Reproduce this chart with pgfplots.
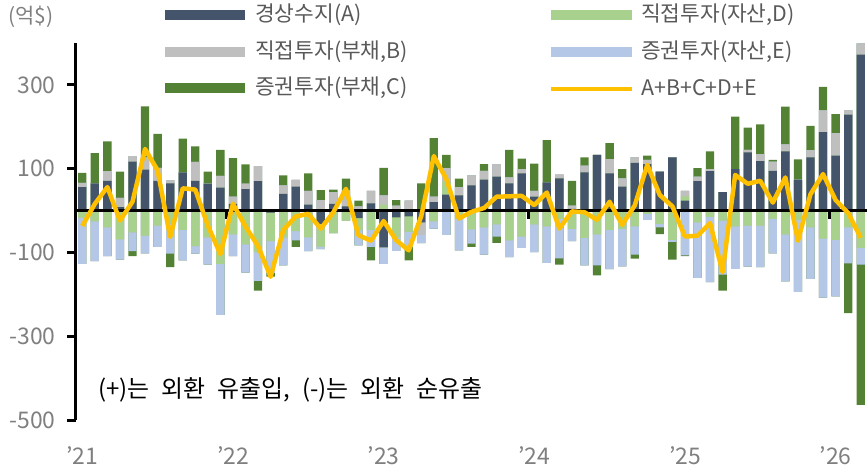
\documentclass[border=0pt]{standalone}
\usepackage{fontspec}
\setmainfont{Noto Sans CJK KR}
\usepackage{pgfplots}
\pgfplotsset{compat=1.18}
\usepackage{pgfplotstable}

\definecolor{colA}{HTML}{44546A}
\definecolor{colB}{HTML}{BFBFBF}
\definecolor{colC}{HTML}{548235}
\definecolor{colD}{HTML}{A9D18E}
\definecolor{colE}{HTML}{B4C7E7}
\definecolor{colL}{HTML}{FFC000}
\definecolor{txtgray}{HTML}{7F7F7F}
\definecolor{legtxt}{HTML}{595959}

% monthly flows, 억$ ; n=0 is Jan 2021
% A current account, B FDI liab., C portfolio liab., D FDI assets, E portfolio assets
\pgfplotstableread{
n A B C D E
0 56 10 24 -17 -110
1 65 0 72 -26 -95
2 71 23 71 -40 -69
3 8 22 63 -69 -48
4 117 13 -12 -52 -45
5 98 29 122 -60 -42
6 71 31 81 -36 -51
7 65 7 -32 -32 -71
8 91 0 81 -46 -73
9 71 45 37 -85 -18
10 64 0 29 -64 -65
11 55 28 62 -127 -122
12 16 17 92 -57 -52
13 51 13 46 -81 -67
14 70 36 -23 -99 -69
15 -5 0 -9 -68 -76
16 40 20 24 -64 -67
17 57 16 -16 -49 -22
18 14 33 42 -64 -33
19 -32 25 24 -54 -6
20 16 28 6 -54 0
21 10 38 28 -24 0
22 -18 10 14 -29 -36
23 17 30 -32 -46 -41
24 -88 22 66 14 -39
25 -16 12 13 -48 -32
26 -14 24 -32 -37 -36
27 -28 -30 65 0 -20
28 20 13 140 -26 -17
29 38 32 32 31 -58
30 36 20 20 -20 -75
31 60 24 -8 -45 -34
32 74 21 16 -40 -65
33 81 29 -15 -33 -29
34 65 14 66 -71 -40
35 89 10 25 -62 -27
36 33 14 65 -33 -66
37 67 0 101 -38 -87
38 77 9 -15 -20 -94
39 4 8 59 -44 -29
40 91 16 20 -65 -66
41 133 0 -24 -57 -74
42 89 34 38 -46 -94
43 57 20 22 -44 -89
44 114 13 -10 -38 -67
45 111 10 10 -8 -14
46 93 0 -16 -32 -8
47 127 0 -42 -70 -5
48 24 13 -2 10 -107
49 70 11 20 -28 -133
50 94 5 42 -15 -156
51 44 0 -38 -24 -129
52 99 0 125 -38 -101
53 139 6 53 -36 -98
54 118 17 71 -36 -99
55 95 22 4 -20 -82
56 141 17 90 -57 -112
57 74 0 48 -22 -172
58 127 17 58 -40 -123
59 187 52 56 -67 -141
60 131 54 45 -70 -135
61 229 10 -119 -40 -86
62 372 27 -335 -89 -40
}\flows

% stacking order A, D, B, E, C; positives and negatives stacked apart,
% each bar drawn from zero to its running total, deepest first
\pgfplotsset{
  seg/.style={ybar, bar width=8.3bp, bar shift=0pt, fill=#1, draw=none, forget plot},
}
\newcommand{\pA}{max(\thisrow{A},0)}
\newcommand{\pD}{max(\thisrow{D},0)}
\newcommand{\pB}{max(\thisrow{B},0)}
\newcommand{\pE}{max(\thisrow{E},0)}
\newcommand{\pC}{max(\thisrow{C},0)}
\newcommand{\nA}{min(\thisrow{A},0)}
\newcommand{\nD}{min(\thisrow{D},0)}
\newcommand{\nB}{min(\thisrow{B},0)}
\newcommand{\nE}{min(\thisrow{E},0)}
\newcommand{\nC}{min(\thisrow{C},0)}

\begin{document}
\begin{tikzpicture}
\begin{axis}[
  at={(0,0)}, anchor=south west,
  scale only axis, width=791bp, height=377bp,
  xmin=-0.5, xmax=62.5, ymin=-500, ymax=400,
  axis y line*=left, axis x line*=bottom,
  x axis line style={draw=none},
  y axis line style={line width=3bp, black},
  ytick={-500,-300,-100,100,300},
  ytick style={line width=3bp, black},
  tick align=outside, major tick length=9bp,
  xtick={0,12,24,36,48,60},
  xticklabels={'21,'22,'23,'24,'25,'26},
  xtick style={draw=none},
  tick label style={font=\fontsize{23}{23}\selectfont, text=txtgray},
  yticklabel style={xshift=-8bp},
  xticklabel style={anchor=center, yshift=-27bp},
  /pgf/number format/assume math mode=true,
  clip=false,
]
% positive side
\addplot[seg=colC] table[x=n, y expr={\pA+\pD+\pB+\pE+\pC}] {\flows};
\addplot[seg=colE] table[x=n, y expr={\pA+\pD+\pB+\pE}] {\flows};
\addplot[seg=colB] table[x=n, y expr={\pA+\pD+\pB}] {\flows};
\addplot[seg=colD] table[x=n, y expr={\pA+\pD}] {\flows};
\addplot[seg=colA] table[x=n, y expr={\pA}] {\flows};
% negative side
\addplot[seg=colC] table[x=n, y expr={\nA+\nD+\nB+\nE+\nC}] {\flows};
\addplot[seg=colE] table[x=n, y expr={\nA+\nD+\nB+\nE}] {\flows};
\addplot[seg=colB] table[x=n, y expr={\nA+\nD+\nB}] {\flows};
\addplot[seg=colD] table[x=n, y expr={\nA+\nD}] {\flows};
\addplot[seg=colA] table[x=n, y expr={\nA}] {\flows};

% zero line and year marks
\draw[black, line width=3.3bp] (axis cs:-0.5,0) -- (axis cs:62.5,0);
\draw[black, line width=3bp] (axis cs:11.5,0) -- (axis cs:11.5,-20);
\draw[black, line width=3bp] (axis cs:23.5,0) -- (axis cs:23.5,-20);
\draw[black, line width=3bp] (axis cs:35.5,0) -- (axis cs:35.5,-20);
\draw[black, line width=3bp] (axis cs:47.5,0) -- (axis cs:47.5,-20);
\draw[black, line width=3bp] (axis cs:59.5,0) -- (axis cs:59.5,-20);

% sum line
\addplot[colL, line width=4.5bp, line join=round, mark=none]
  table[x=n, y expr={\thisrow{A}+\thisrow{B}+\thisrow{C}+\thisrow{D}+\thisrow{E}}] {\flows};
\end{axis}

% legend
\begin{scope}[every node/.style={anchor=west, inner sep=0pt, text=legtxt, font=\fontsize{21.5}{21.5}\selectfont}]
\fill[colA] (89bp,400bp) rectangle (169bp,410bp);
\node at (179bp,405bp) {경상수지(A)};
\fill[colD] (475bp,400bp) rectangle (556bp,410bp);
\node at (565bp,405bp) {직접투자(자산,D)};
\fill[colB] (89bp,363bp) rectangle (169bp,373bp);
\node at (179bp,368bp) {직접투자(부채,B)};
\fill[colE] (475bp,363bp) rectangle (556bp,373bp);
\node at (565bp,368bp) {증권투자(자산,E)};
\fill[colC] (89bp,327bp) rectangle (169bp,337bp);
\node at (179bp,332bp) {증권투자(부채,C)};
\draw[colL, line width=4bp] (475bp,331bp) -- (556bp,331bp);
\node at (565bp,332bp) {A+B+C+D+E};
\end{scope}

\node[anchor=west, inner sep=0pt, text=txtgray, font=\fontsize{21}{21}\selectfont] at (-68bp,403bp) {(억\$)};
\node[anchor=west, inner sep=0pt, font=\fontsize{24}{24}\selectfont] at (22bp,30bp)
  {(+)는\hspace{12bp}외환\hspace{12bp}유출입,\hspace{12bp}(-)는\hspace{12bp}외환\hspace{12bp}순유출};

\pgfresetboundingbox
\path (-76bp,-47bp) rectangle (791bp,420bp);
\end{tikzpicture}
\end{document}
